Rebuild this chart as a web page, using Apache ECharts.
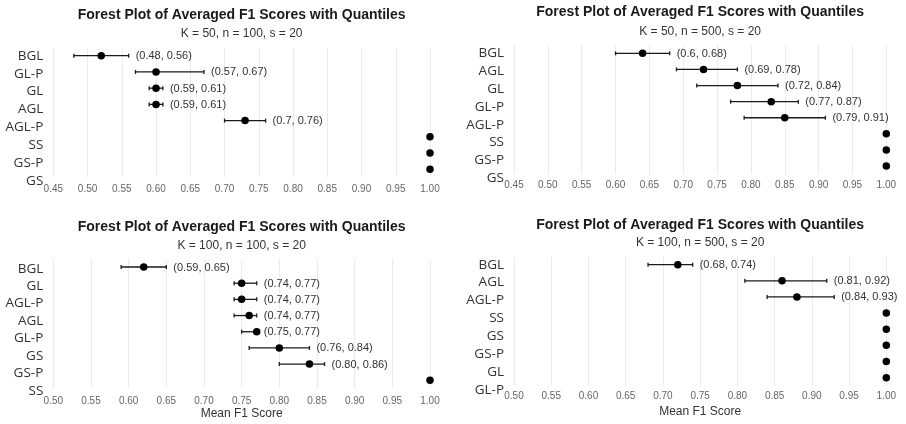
<!DOCTYPE html>
<html>
<head>
<meta charset="utf-8">
<script src="https://cdn.jsdelivr.net/npm/echarts@6/dist/echarts.min.js"></script>
<style>
  html, body { margin: 0; padding: 0; background: #fff; }
  #main { width: 906px; height: 424px; }
</style>
</head>
<body>
<div id="main"></div>
<script>
// panel 1: K = 50, n = 100
var cats1 = ['BGL', 'GL-P', 'GL', 'AGL', 'AGL-P', 'SS', 'GS-P', 'GS'];
var mean1 = [0.52, 0.60, 0.60, 0.60, 0.73, 1.00, 1.00, 1.00];
var lo1 = [0.48, 0.57, 0.59, 0.59, 0.70, null, null, null];
var hi1 = [0.56, 0.67, 0.61, 0.61, 0.76, null, null, null];
var txt1 = ['(0.48, 0.56)', '(0.57, 0.67)', '(0.59, 0.61)', '(0.59, 0.61)', '(0.7, 0.76)', '', '', ''];

// panel 2: K = 50, n = 500
var cats2 = ['BGL', 'AGL', 'GL', 'GL-P', 'AGL-P', 'SS', 'GS-P', 'GS'];
var mean2 = [0.64, 0.73, 0.78, 0.83, 0.85, 1.00, 1.00, 1.00];
var lo2 = [0.60, 0.69, 0.72, 0.77, 0.79, null, null, null];
var hi2 = [0.68, 0.78, 0.84, 0.87, 0.91, null, null, null];
var txt2 = ['(0.6, 0.68)', '(0.69, 0.78)', '(0.72, 0.84)', '(0.77, 0.87)', '(0.79, 0.91)', '', '', ''];

// panel 3: K = 100, n = 100
var cats3 = ['BGL', 'GL', 'AGL-P', 'AGL', 'GL-P', 'GS', 'GS-P', 'SS'];
var mean3 = [0.62, 0.75, 0.75, 0.76, 0.77, 0.80, 0.84, 1.00];
var lo3 = [0.59, 0.74, 0.74, 0.74, 0.75, 0.76, 0.80, null];
var hi3 = [0.65, 0.77, 0.77, 0.77, 0.77, 0.84, 0.86, null];
var txt3 = ['(0.59, 0.65)', '(0.74, 0.77)', '(0.74, 0.77)', '(0.74, 0.77)', '(0.75, 0.77)', '(0.76, 0.84)', '(0.80, 0.86)', ''];

// panel 4: K = 100, n = 500
var cats4 = ['BGL', 'AGL', 'AGL-P', 'SS', 'GS', 'GS-P', 'GL', 'GL-P'];
var mean4 = [0.72, 0.86, 0.88, 1.00, 1.00, 1.00, 1.00, 1.00];
var lo4 = [0.68, 0.81, 0.84, null, null, null, null, null];
var hi4 = [0.74, 0.92, 0.93, null, null, null, null, null];
var txt4 = ['(0.68, 0.74)', '(0.81, 0.92)', '(0.84, 0.93)', '', '', '', '', ''];

var mainTitle = 'Forest Plot of Averaged F1 Scores with Quantiles';
var subTitles = ['K = 50, n = 100, s = 20', 'K = 50, n = 500, s = 20', 'K = 100, n = 100, s = 20', 'K = 100, n = 500, s = 20'];
var xMins = [0.45, 0.45, 0.50, 0.50];

var panels = [
    { cats: cats1, mean: mean1, lo: lo1, hi: hi1, txt: txt1 },
    { cats: cats2, mean: mean2, lo: lo2, hi: hi2, txt: txt2 },
    { cats: cats3, mean: mean3, lo: lo3, hi: hi3, txt: txt3 },
    { cats: cats4, mean: mean4, lo: lo4, hi: hi4, txt: txt4 }
];

// layout per panel (pixels)
var box = [
    { left: 53.3, width: 376.7, top: 47.6, height: 129.8, labTop: 46.8, labH: 143.3, tY: 8, sY: 27.3, xMargin: 7, nameGap: 19 },
    { left: 514, width: 372.3, top: 45.3, height: 128.8, labTop: 44.4, labH: 142.9, tY: 5.5, sY: 25.5, xMargin: 6, nameGap: 19 },
    { left: 53.3, width: 376.7, top: 258.9, height: 129.5, labTop: 260, labH: 139.5, tY: 220, sY: 239.3, xMargin: 7.5, nameGap: 19.3 },
    { left: 514, width: 372.3, top: 256.6, height: 129.1, labTop: 255.7, labH: 143.6, tY: 217.7, sY: 237, xMargin: 6, nameGap: 20.3 }
];

var chart = echarts.init(document.getElementById('main'), null, { renderer: 'canvas' });

var titles = [], grids = [], xAxes = [], yAxes = [], series = [];

function renderBar(params, api) {
    var yi = api.value(0);
    var a = api.coord([api.value(1), yi]);
    var b = api.coord([api.value(2), yi]);
    var label = panels[params.seriesIndex / 2 | 0].txt[api.value(3)];
    var st = { stroke: '#1a1a1a', lineWidth: 1.3 };
    return {
        type: 'group',
        children: [
            { type: 'line', shape: { x1: a[0], y1: a[1], x2: b[0], y2: b[1] }, style: st },
            { type: 'line', shape: { x1: a[0], y1: a[1] - 2, x2: a[0], y2: a[1] + 2 }, style: st },
            { type: 'line', shape: { x1: b[0], y1: b[1] - 2, x2: b[0], y2: b[1] + 2 }, style: st },
            {
                type: 'text',
                style: {
                    x: b[0] + 7, y: b[1] + 0.5, text: label,
                    fill: '#333', font: '11px "Liberation Sans", Arial, sans-serif',
                    verticalAlign: 'middle', align: 'left'
                }
            }
        ]
    };
}

panels.forEach(function (p, k) {
    var g = box[k];
    var cx = g.left + g.width / 2;
    titles.push({
        text: mainTitle, left: cx, top: g.tY, textAlign: 'center', padding: 0,
        textStyle: { fontFamily: 'Liberation Sans', fontSize: 14, fontWeight: 'bold', color: '#1a1a1a' }
    });
    titles.push({
        text: subTitles[k], left: cx, top: g.sY, textAlign: 'center', padding: 0,
        textStyle: { fontFamily: 'Liberation Sans', fontSize: 12, fontWeight: 'normal', color: '#333' }
    });

    // data grid
    grids.push({ left: g.left, top: g.top, width: g.width, height: g.height });
    xAxes.push({
        gridIndex: k, type: 'value', min: xMins[k], max: 1.0, interval: 0.05,
        name: k >= 2 ? 'Mean F1 Score' : '', nameLocation: 'middle', nameGap: g.nameGap,
        nameTextStyle: { fontFamily: 'Liberation Sans', fontSize: 12, color: '#333' },
        axisLine: { show: false }, axisTick: { show: false },
        axisLabel: {
            margin: g.xMargin, fontFamily: 'Liberation Sans', fontSize: 10, color: '#666',
            formatter: function (v) { return v.toFixed(2); }
        },
        splitLine: { show: true, lineStyle: { color: '#ebebeb', width: 1 } }
    });
    yAxes.push({
        gridIndex: k, type: 'category', data: p.cats, inverse: true,
        axisLine: { show: false }, axisTick: { show: false }, axisLabel: { show: false },
        splitLine: { show: false }
    });

    var bars = [];
    for (var i = 0; i < p.cats.length; i++) {
        if (p.lo[i] != null) bars.push([p.cats[i], p.lo[i], p.hi[i], i]);
    }
    var pts = p.cats.map(function (c, i) { return [p.mean[i], c]; });

    series.push({
        type: 'custom', xAxisIndex: k, yAxisIndex: k, renderItem: renderBar,
        encode: { y: 0, x: [1, 2] }, data: bars, silent: true, z: 2
    });
    series.push({
        type: 'scatter', xAxisIndex: k, yAxisIndex: k, data: pts,
        symbol: 'circle', symbolSize: 7.5, itemStyle: { color: '#000', opacity: 1 },
        silent: true, z: 3
    });
});

// label-only grids (the category labels are spaced differently from the points)
panels.forEach(function (p, k) {
    var g = box[k];
    grids.push({ left: g.left, top: g.labTop, width: g.width, height: g.labH });
    xAxes.push({ gridIndex: 4 + k, type: 'value', show: false, min: 0, max: 1 });
    yAxes.push({
        gridIndex: 4 + k, type: 'category', data: p.cats, inverse: true,
        axisLine: { show: false }, axisTick: { show: false },
        axisLabel: { interval: 0, margin: 10, fontFamily: 'Open Sans', fontSize: 13.5, color: '#333' },
        splitLine: { show: false }
    });
});

var option = {
    animation: false,
    backgroundColor: '#fff',
    title: titles,
    grid: grids,
    xAxis: xAxes,
    yAxis: yAxes,
    series: series
};

chart.setOption(option);
</script>
</body>
</html>
